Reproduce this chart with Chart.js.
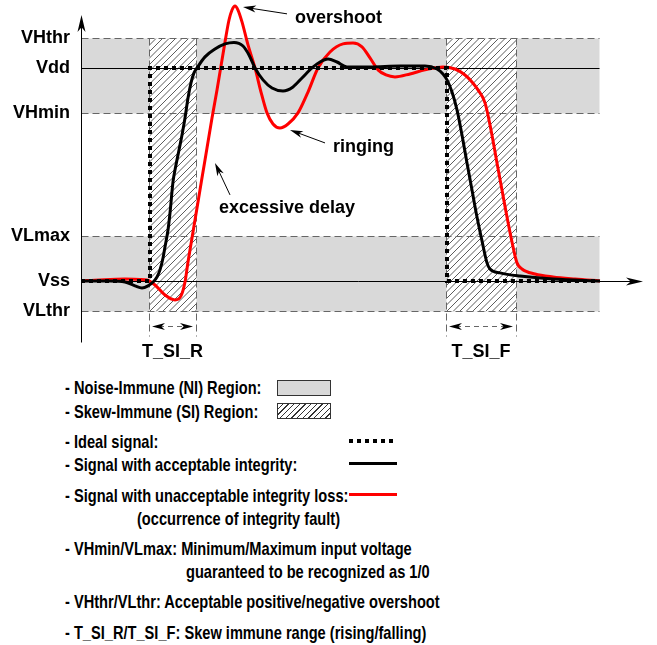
<!DOCTYPE html>
<html>
<head>
<meta charset="utf-8">
<script src="https://cdn.jsdelivr.net/npm/chart.js@4.4.1/dist/chart.umd.min.js"></script>
<style>
  body { margin: 0; background: #fff; }
  #wrap { position: relative; width: 657px; height: 645px; font-family: "Liberation Sans", Arial, sans-serif; font-weight: bold; color: #000; }
  #chart { position: absolute; left: 0; top: 0; }
  .ln { position: absolute; font-size: 18.5px; line-height: 20px; white-space: nowrap; transform: scaleX(0.79); transform-origin: 0 50%; }
  .sw { position: absolute; box-sizing: border-box; }
</style>
</head>
<body>
<div id="wrap">
  <canvas id="chart" width="657" height="365"></canvas>

  <div class="ln" style="left:65px;top:378px">- Noise-Immune (NI) Region:</div>
  <div class="sw" style="left:277px;top:380px;width:54px;height:16px;background:#d9d9d9;border:1px solid #333"></div>
  <div class="ln" style="left:65px;top:402px">- Skew-Immune (SI) Region:</div>
  <div class="sw" style="left:277px;top:403px;width:54px;height:16px;border:1px solid #333;background:repeating-linear-gradient(135deg,#fff 0 3px,#333 3px 4px)"></div>

  <div class="ln" style="left:65px;top:432px">- Ideal signal:</div>
  <div class="sw" style="left:349px;top:439px;width:44px;height:4px;background:repeating-linear-gradient(90deg,#000 0 4px,transparent 4px 8px)"></div>
  <div class="ln" style="left:65px;top:455px">- Signal with acceptable integrity:</div>
  <div class="sw" style="left:349px;top:462px;width:48px;height:3px;background:#000"></div>

  <div class="ln" style="left:65px;top:486px">- Signal with unacceptable integrity loss:</div>
  <div class="sw" style="left:349px;top:493px;width:48px;height:3px;background:#f00"></div>
  <div class="ln" style="left:137px;top:509px">(occurrence of integrity fault)</div>

  <div class="ln" style="left:65px;top:539px">- VHmin/VLmax: Minimum/Maximum input voltage</div>
  <div class="ln" style="left:186px;top:562px">guaranteed to be recognized as 1/0</div>

  <div class="ln" style="left:65px;top:592px">- VHthr/VLthr: Acceptable positive/negative overshoot</div>

  <div class="ln" style="left:65px;top:623px">- T_SI_R/T_SI_F: Skew immune range (rising/falling)</div>
</div>

<script>
// voltage levels (Vss = 0, Vdd = 1)
const levelNames = ["VHthr", "Vdd", "VHmin", "VLmax", "Vss", "VLthr"];
const levelValues = [1.14, 1.0, 0.79, 0.21, 0, -0.14];

// time span of the regions
const timeEnd = 51.8;
const skewRising = [6.8, 11.5];
const skewFalling = [36.5, 43.5];
const skewNames = ["T_SI_R", "T_SI_F"];

// ideal signal
const idealTime = [0, 6.9, 6.9, 36.6, 36.6, 51.8];
const idealVolt = [0, 0, 1, 1, 0, 0];

// signal with acceptable integrity
const okTime = [0, 2.9, 4.4, 5.4, 6.1, 6.7, 7.2, 7.6, 7.9, 8.2, 8.4, 8.7, 8.9, 9.2, 9.5, 9.8, 10.1, 10.4, 10.7, 11.0, 11.3, 11.6,
  12.4, 13.4, 14.4, 15.3, 16.2, 16.8, 17.4, 18.2, 19.1, 20.2, 21.2, 22.1, 23.1, 23.9, 24.7, 25.6, 26.6, 28.9, 31.9, 34.4,
  35.6, 36.2, 36.6, 37.1, 37.6, 38.1, 38.6, 39.1, 39.6, 40.1, 40.6, 40.9, 41.9, 43.9, 47.2, 51.9];
const okVolt = [0, 0, -0.005, -0.023, -0.033, -0.023, -0.005, 0.019, 0.052, 0.108, 0.16, 0.239, 0.319, 0.465, 0.545, 0.615, 0.685, 0.765, 0.859, 0.93, 0.977, 1.0,
  1.052, 1.089, 1.113, 1.12, 1.103, 1.061, 1.0, 0.944, 0.906, 0.892, 0.911, 0.953, 1.0, 1.028, 1.042, 1.028, 1.005, 1.005, 1.009, 1.009,
  0.995, 0.972, 0.944, 0.887, 0.803, 0.685, 0.554, 0.427, 0.3, 0.188, 0.085, 0.056, 0.038, 0.023, 0.009, 0];

// signal with unacceptable integrity loss
const badTime = [0, 1.9, 4.4, 5.9, 6.6, 7.4, 8.4, 9.4, 10.0, 10.4, 10.7, 11.1, 11.6, 12.1, 12.6, 13.1, 13.6, 14.0, 14.4, 14.8, 15.1, 15.4, 15.7,
  16.1, 16.7, 17.4, 18.0, 18.6, 19.2, 19.9, 20.7, 21.7, 22.7, 23.7, 24.9, 26.2, 27.2, 28.1, 28.9, 29.7, 30.5, 31.4, 32.9, 34.4,
  36.2, 37.4, 38.4, 39.1, 39.7, 40.4, 41.0, 41.6, 42.1, 42.6, 43.1, 43.6, 44.1, 45.4, 47.2, 49.4, 51.9];
const badVolt = [0, 0.005, 0.009, 0.007, 0.005, -0.019, -0.066, -0.089, -0.07, -0.005, 0.089, 0.202, 0.343, 0.484, 0.624, 0.765, 0.897, 1.009, 1.122, 1.225, 1.272, 1.291, 1.272,
  1.216, 1.108, 1.0, 0.887, 0.789, 0.737, 0.718, 0.737, 0.789, 0.887, 1.0, 1.075, 1.113, 1.117, 1.099, 1.047, 0.991, 0.967, 0.958, 0.972, 0.991,
  1.005, 0.995, 0.967, 0.934, 0.897, 0.836, 0.709, 0.554, 0.427, 0.3, 0.183, 0.085, 0.056, 0.033, 0.019, 0.009, 0];

const toPoints = (ts, vs) => ts.map((t, i) => ({ x: t, y: vs[i] }));
const level = (name) => levelValues[levelNames.indexOf(name)];
const FONT = '"Liberation Sans", Arial, sans-serif';

function arrowHead(ctx, tx, ty, ang, len, half) {
  const c = Math.cos(ang), s = Math.sin(ang);
  const bx = tx - c * len, by = ty - s * len;
  ctx.beginPath();
  ctx.moveTo(tx, ty);
  ctx.lineTo(bx - s * half, by + c * half);
  ctx.lineTo(tx - c * len * 0.72, ty - s * len * 0.72);
  ctx.lineTo(bx + s * half, by - c * half);
  ctx.closePath();
  ctx.fill();
}

function seg(ctx, ax, ay, bx, by) {
  ctx.beginPath();
  ctx.moveTo(ax, ay);
  ctx.lineTo(bx, by);
  ctx.stroke();
}

const diagram = {
  id: "diagram",
  beforeDatasetsDraw(chart) {
    const { ctx, scales: { x, y } } = chart;
    const py = (n) => Math.round(y.getPixelForValue(level(n))) + 0.5;
    const x0 = Math.round(x.getPixelForValue(0)) + 0.5;
    const x1 = Math.round(x.getPixelForValue(timeEnd)) + 0.5;
    ctx.save();

    // noise immune bands
    ctx.fillStyle = "#d9d9d9";
    ctx.fillRect(x0, py("VHthr"), x1 - x0, py("VHmin") - py("VHthr"));
    ctx.fillRect(x0, py("VLmax"), x1 - x0, py("VLthr") - py("VLmax"));

    // skew immune hatching
    [skewRising, skewFalling].forEach((r) => {
      const a = Math.round(x.getPixelForValue(r[0])) + 0.5;
      const b = Math.round(x.getPixelForValue(r[1])) + 0.5;
      const top = py("VHthr"), bot = py("VLthr"), h = bot - top;
      ctx.save();
      ctx.fillStyle = "#fff";
      ctx.fillRect(a, top, b - a, h);
      ctx.beginPath();
      ctx.rect(a, top, b - a, h);
      ctx.clip();
      ctx.strokeStyle = "#333";
      ctx.lineWidth = 0.8;
      ctx.beginPath();
      for (let k = a - h; k < b + 7; k += 6.5) {
        ctx.moveTo(k, bot);
        ctx.lineTo(k + h, top);
      }
      ctx.stroke();
      ctx.restore();
    });

    // dashed threshold lines
    ctx.strokeStyle = "#666";
    ctx.lineWidth = 1;
    ctx.setLineDash([7, 4]);
    ["VHthr", "VHmin", "VLmax", "VLthr"].forEach((n) => seg(ctx, x0, py(n), x1, py(n)));
    [skewRising[0], skewRising[1], skewFalling[0], skewFalling[1]].forEach((t) => {
      const px = Math.round(x.getPixelForValue(t)) + 0.5;
      seg(ctx, px, py("VHthr"), px, py("VLthr") + 25);
    });

    // skew range brackets
    const by = py("VLthr") + 15;
    [skewRising, skewFalling].forEach((r) => {
      const a = x.getPixelForValue(r[0]), b = x.getPixelForValue(r[1]);
      ctx.strokeStyle = "#666";
      ctx.setLineDash([5, 4]);
      seg(ctx, a + 10, by, b - 10, by);
      ctx.setLineDash([]);
      ctx.fillStyle = "#000";
      arrowHead(ctx, a + 3, by, Math.PI, 13, 3.5);
      arrowHead(ctx, b - 3, by, 0, 13, 3.5);
    });
    ctx.setLineDash([]);

    // Vdd / Vss reference lines and axes
    ctx.strokeStyle = "#000";
    ctx.lineWidth = 1;
    seg(ctx, x0, py("Vdd"), x1, py("Vdd"));
    const tipX = chart.chartArea.right - 2;
    seg(ctx, x0, py("Vss"), tipX - 8, py("Vss"));
    ctx.fillStyle = "#000";
    arrowHead(ctx, tipX, py("Vss"), 0, 17, 4);
    const tipY = chart.chartArea.top + 15;
    seg(ctx, x0, py("VLthr") + 31, x0, tipY + 8);
    arrowHead(ctx, x0, tipY, -Math.PI / 2, 17, 4);

    ctx.restore();
  },
  afterDatasetsDraw(chart) {
    const { ctx, scales: { x, y } } = chart;
    ctx.save();
    ctx.fillStyle = "#000";
    ctx.strokeStyle = "#000";
    ctx.lineWidth = 1;
    ctx.font = "bold 18px " + FONT;
    ctx.textBaseline = "alphabetic";

    const notes = [
      { text: "overshoot", t: 21.4, v: 1.213, from: [20.6, 1.254], to: [16.2, 1.286] },
      { text: "ringing", t: 25.2, v: 0.606, from: [24.4, 0.648], to: [20.9, 0.709] },
      { text: "excessive delay", t: 13.8, v: 0.319, from: [14.9, 0.404], to: [13.4, 0.554] },
    ];
    notes.forEach((n) => {
      ctx.textAlign = "left";
      ctx.fillText(n.text, x.getPixelForValue(n.t), y.getPixelForValue(n.v));
      const ax = x.getPixelForValue(n.from[0]), ay = y.getPixelForValue(n.from[1]);
      const bx = x.getPixelForValue(n.to[0]), bY = y.getPixelForValue(n.to[1]);
      const ang = Math.atan2(bY - ay, bx - ax);
      seg(ctx, ax, ay, bx - Math.cos(ang) * 8, bY - Math.sin(ang) * 8);
      arrowHead(ctx, bx, bY, ang, 13, 3.5);
    });

    // skew range names
    ctx.textAlign = "center";
    const ly = y.getPixelForValue(level("VLthr")) + 46;
    [skewRising, skewFalling].forEach((r, i) => {
      const cx = x.getPixelForValue((r[0] + r[1]) / 2);
      ctx.fillText(skewNames[i], cx, ly);
    });
    ctx.restore();
  },
};

const Y_MAX = 1.319;
const Y_MIN = -0.371;

new Chart(document.getElementById("chart").getContext("2d"), {
  type: "line",
  data: {
    datasets: [
      {
        label: "Ideal signal",
        data: toPoints(idealTime, idealVolt),
        borderColor: "#000",
        borderWidth: 4,
        borderDash: [4, 4],
        borderCapStyle: "butt",
        tension: 0,
        pointRadius: 0,
      },
      {
        label: "Signal with acceptable integrity",
        data: toPoints(okTime, okVolt),
        borderColor: "#000",
        borderWidth: 3,
        cubicInterpolationMode: "monotone",
        pointRadius: 0,
      },
      {
        label: "Signal with unacceptable integrity loss",
        data: toPoints(badTime, badVolt),
        borderColor: "#ff0000",
        borderWidth: 3,
        cubicInterpolationMode: "monotone",
        pointRadius: 0,
      },
    ],
  },
  options: {
    responsive: false,
    animation: false,
    clip: false,
    layout: { autoPadding: false, padding: { left: 0, right: 12, top: 0, bottom: 5 } },
    plugins: {
      legend: { display: false },
      tooltip: { enabled: false },
    },
    scales: {
      x: { type: "linear", min: 0, max: 56.4, display: false },
      y: {
        type: "linear",
        min: Y_MIN,
        max: Y_MAX,
        afterBuildTicks: (scale) => {
          scale.ticks = levelValues.map((value) => ({ value }));
        },
        afterFit: (scale) => {
          scale.width = 81;
          scale.paddingTop = 0;
          scale.paddingBottom = 0;
        },
        grid: { display: false, drawTicks: false },
        border: { display: false },
        ticks: {
          autoSkip: false,
          padding: 11,
          color: "#000",
          font: { family: FONT, size: 18, weight: "bold" },
          callback: (value, index) => levelNames[index],
        },
      },
    },
  },
  plugins: [diagram],
});
</script>
</body>
</html>
